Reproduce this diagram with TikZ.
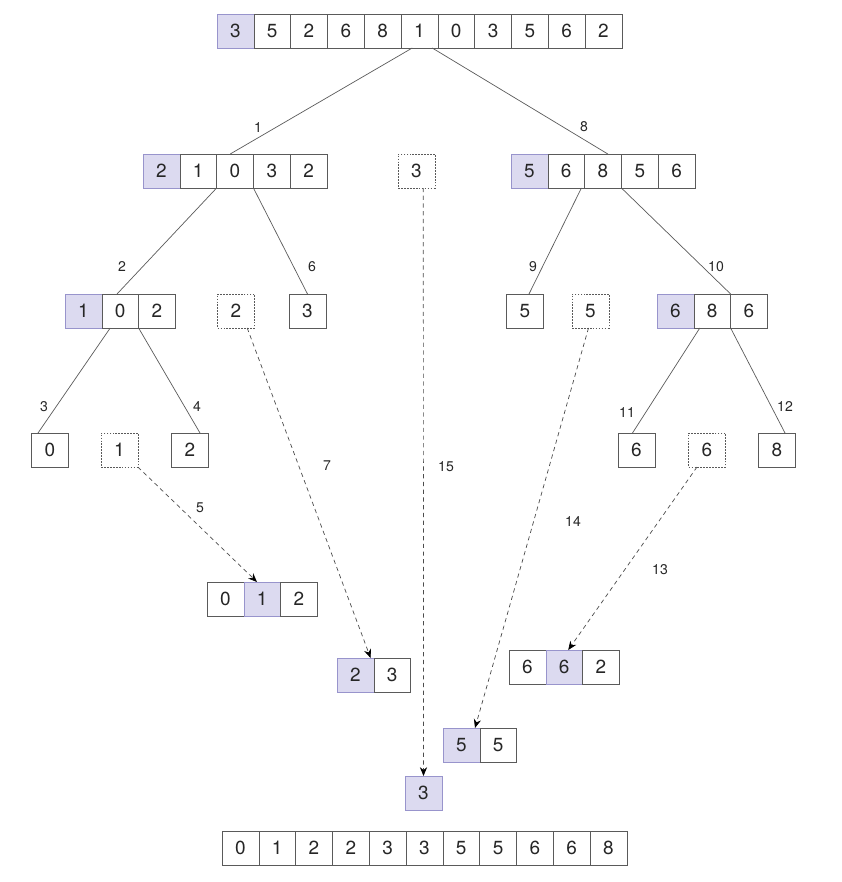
\documentclass[tikz,border=0pt]{standalone}
\usepackage{fontspec}
\setmainfont{TeX Gyre Heros}
\usetikzlibrary{arrows.meta,positioning}
\definecolor{cellline}{HTML}{5A5A5A}
\definecolor{pickfill}{HTML}{DCDAF0}
\definecolor{pickline}{HTML}{9894CC}
\tikzset{
	cell/.style={
		rectangle,
		draw=cellline,
		fill=white,
		minimum width=0.92cm,
		minimum height=0.85cm,
		inner sep=0pt,
		outer sep=0pt,
		text=black!85,
		font=\fontsize{13.5}{15}\selectfont
	},
	pick/.style={
		cell,
		draw=pickline,
		fill=pickfill
	},
	ghost/.style={
		cell,
		dash pattern=on 1.2pt off 0.9pt
	},
	split/.style={
		draw=cellline,
		line width=0.5pt
	},
	move/.style={
		draw=black!70,
		line width=0.5pt,
		dash pattern=on 3pt off 2.5pt,
		-{Stealth[length=2.2mm,width=1.8mm,black]}
	},
	stepnum/.style={
		text=black!85,
		font=\fontsize{10}{12}\selectfont
	}
}

\begin{document}
\begin{tikzpicture}[x=0.025cm,y=-0.025cm,node distance=0pt]
		\useasboundingbox (0,0) rectangle (842,882);
		% whole array
		\node [pick] (t1) at (235.4,31) {3};
		\node [cell] (t2) [right= of t1] {5};
		\node [cell] (t3) [right= of t2] {2};
		\node [cell] (t4) [right= of t3] {6};
		\node [cell] (t5) [right= of t4] {8};
		\node [cell] (t6) [right= of t5] {1};
		\node [cell] (t7) [right= of t6] {0};
		\node [cell] (t8) [right= of t7] {3};
		\node [cell] (t9) [right= of t8] {5};
		\node [cell] (t10) [right= of t9] {6};
		\node [cell] (t11) [right= of t10] {2};
		% first split
		\node [pick] (l1) at (161.4,171) {2};
		\node [cell] (l2) [right= of l1] {1};
		\node [cell] (l3) [right= of l2] {0};
		\node [cell] (l4) [right= of l3] {3};
		\node [cell] (l5) [right= of l4] {2};
		\node [ghost] (d3) at (416.5,171) {3};
		\node [pick] (r1) at (529.4,171) {5};
		\node [cell] (r2) [right= of r1] {6};
		\node [cell] (r3) [right= of r2] {8};
		\node [cell] (r4) [right= of r3] {5};
		\node [cell] (r5) [right= of r4] {6};
		% second split
		\node [pick] (ll1) at (83.4,311) {1};
		\node [cell] (ll2) [right= of ll1] {0};
		\node [cell] (ll3) [right= of ll2] {2};
		\node [ghost] (d2) at (236,311) {2};
		\node [cell] (n3) at (307.5,311) {3};
		\node [cell] (n5) at (525,311) {5};
		\node [ghost] (d5) at (590.5,311) {5};
		\node [pick] (rr1) at (675.4,311) {6};
		\node [cell] (rr2) [right= of rr1] {8};
		\node [cell] (rr3) [right= of rr2] {6};
		% leaves
		\node [cell] (n0) at (50,450) {0};
		\node [ghost] (d1) at (119.5,450) {1};
		\node [cell] (n2) at (190,450) {2};
		\node [cell] (n6) at (636.5,450) {6};
		\node [ghost] (d6) at (707,450) {6};
		\node [cell] (n8) at (777,450) {8};
		% merged pieces
		\node [cell] (m1) at (225.4,599) {0};
		\node [pick] (m2) [right= of m1] {1};
		\node [cell] (m3) [right= of m2] {2};
		\node [pick] (p1) at (355.4,675) {2};
		\node [cell] (p2) [right= of p1] {3};
		\node [cell] (q1) at (527.4,667) {6};
		\node [pick] (q2) [right= of q1] {6};
		\node [cell] (q3) [right= of q2] {2};
		\node [pick] (s1) at (461.4,745) {5};
		\node [cell] (s2) [right= of s1] {5};
		\node [pick] (u1) at (423.5,793) {3};
		% sorted array
		\node [cell] (b1) at (240.4,848) {0};
		\node [cell] (b2) [right= of b1] {1};
		\node [cell] (b3) [right= of b2] {2};
		\node [cell] (b4) [right= of b3] {2};
		\node [cell] (b5) [right= of b4] {3};
		\node [cell] (b6) [right= of b5] {3};
		\node [cell] (b7) [right= of b6] {5};
		\node [cell] (b8) [right= of b7] {5};
		\node [cell] (b9) [right= of b8] {6};
		\node [cell] (b10) [right= of b9] {6};
		\node [cell] (b11) [right= of b10] {8};
		% splits
		\draw [split] ([xshift=-0.18cm]t6.south) -- ([xshift=-0.12cm]l3.north);
		\draw [split] ([xshift=0.32cm]t6.south) -- ([xshift=0.12cm]r3.north);
		\draw [split] (l3.south west) -- ([xshift=-0.08cm]ll2.north);
		\draw [split] (l3.south east) -- (n3.north);
		\draw [split] ([xshift=-0.08cm]r3.south west) -- ([xshift=0.1cm]n5.north);
		\draw [split] (r3.south east) -- (rr2.north east);
		\draw [split] ([xshift=-0.25cm]ll2.south) -- ([xshift=-0.3cm]n0.north);
		\draw [split] (ll2.south east) -- ([xshift=0.25cm]n2.north);
		\draw [split] ([xshift=0.15cm]rr2.south west) -- ([xshift=-0.1cm]n6.north);
		\draw [split] (rr2.south east) -- ([xshift=0.2cm]n8.north);
		% merges
		\draw [move] (d1.south east) -- ([xshift=-0.13cm]m2.north);
		\draw [move] ([xshift=0.28cm]d2.south) -- ([xshift=0.38cm]p1.north);
		\draw [move] ([xshift=0.17cm]d3.south) -- (u1.north);
		\draw [move] ([xshift=-0.05cm]d5.south) -- ([xshift=0.34cm]s1.north);
		\draw [move] ([xshift=-0.25cm]d6.south) -- ([xshift=0.1cm]q2.north);
		% step numbers
		\node [stepnum] (e1) at (258,128) {1};
		\node [stepnum] (e2) at (122,267) {2};
		\node [stepnum] (e3) at (44,407) {3};
		\node [stepnum] (e4) at (197,407) {4};
		\node [stepnum] (e5) at (200,508) {5};
		\node [stepnum] (e6) at (312,267) {6};
		\node [stepnum] (e7) at (327,466) {7};
		\node [stepnum] (e8) at (584,127) {8};
		\node [stepnum] (e9) at (533,267) {9};
		\node [stepnum] (e10) at (716,267) {10};
		\node [stepnum] (e11) at (627,413) {11};
		\node [stepnum] (e12) at (785,407) {12};
		\node [stepnum] (e13) at (660,570) {13};
		\node [stepnum] (e14) at (573,522) {14};
		\node [stepnum] (e15) at (446,467) {15};
		\end{tikzpicture}
\end{document}
